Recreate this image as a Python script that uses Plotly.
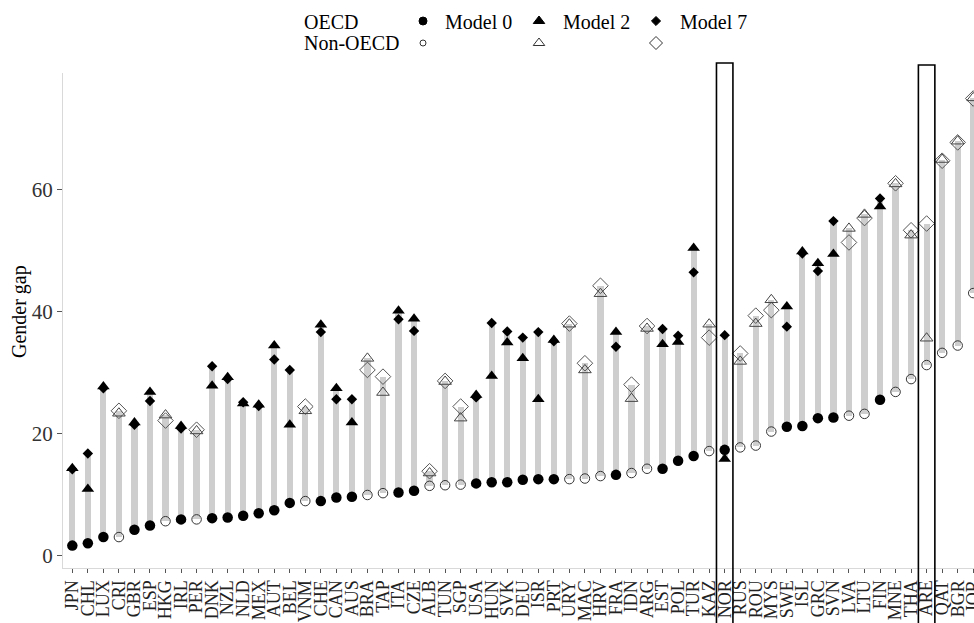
import plotly.graph_objects as go

countries = ["JPN","CHL","LUX","CRI","GBR","ESP","HKG","IRL","PER","DNK","NZL","NLD","MEX","AUT","BEL","VNM",
             "CHE","CAN","AUS","BRA","TAP","ITA","CZE","ALB","TUN","SGP","USA","HUN","SVK","DEU","ISR","PRT",
             "URY","MAC","HRV","FRA","IDN","ARG","EST","POL","TUR","KAZ","NOR","RUS","ROU","MYS","SWE","ISL",
             "GRC","SVN","LVA","LTU","FIN","MNE","THA","ARE","QAT","BGR","JOR"]
oecd = [1,1,1,0,1,1,0,1,0,1,1,1,1,1,1,0,
        1,1,1,0,0,1,1,0,0,0,1,1,1,1,1,1,
        0,0,0,1,0,0,1,1,1,0,1,0,0,0,1,1,
        1,1,0,0,1,0,0,0,0,0,0]
model0 = [1.7,2.1,3.1,3.1,4.3,5.0,5.7,6.0,6.0,6.2,6.3,6.6,7.0,7.5,8.7,9.0,
          9.0,9.6,9.7,10.0,10.3,10.4,10.7,11.5,11.6,11.7,11.9,12.1,12.1,12.5,12.6,12.6,
          12.6,12.7,13.1,13.3,13.6,14.3,14.3,15.6,16.4,17.2,17.4,17.8,18.1,20.4,21.2,21.3,
          22.6,22.7,23.0,23.3,25.6,26.9,29.0,31.3,33.3,34.5,43.1]
model2 = [14.4,11.0,27.8,23.4,21.9,26.9,23.1,21.3,20.5,27.9,29.3,25.0,24.8,34.5,21.5,23.8,
          37.9,27.5,21.9,32.4,26.8,40.2,38.9,13.6,28.6,22.6,26.4,29.5,35.0,32.4,25.7,35.4,
          38.0,30.5,43.0,36.7,25.8,37.3,34.7,35.1,50.5,38.0,15.9,31.9,38.1,42.0,40.9,49.9,
          48.0,49.5,53.7,56.0,57.3,61.0,52.6,35.7,65.0,68.0,75.1]
model7 = [14.2,16.8,27.5,23.8,21.5,25.4,22.2,20.9,20.7,31.1,29.0,25.2,24.6,32.2,30.5,24.5,
          36.7,25.7,25.7,30.5,29.4,38.8,36.9,13.9,28.7,24.5,26.0,38.2,36.8,35.8,36.7,35.2,
          38.1,31.6,44.3,34.3,28.1,37.7,37.2,36.1,46.5,35.8,36.2,33.2,39.4,40.3,37.6,49.6,
          46.7,54.9,51.4,55.4,58.6,61.1,53.4,54.5,64.8,67.8,75.0]
highlight = ["NOR", "ARE"]
yticks = [0, 20, 40, 60]

FONT = "Liberation Serif"
lo = [min(a, b, c) for a, b, c in zip(model0, model2, model7)]
hi = [max(a, b, c) for a, b, c in zip(model0, model2, model7)]

fig = go.Figure()
fig.add_trace(go.Bar(x=countries, y=[h - l for h, l in zip(hi, lo)], base=lo, width=0.4,
                     marker=dict(color="#cecece", line=dict(width=0)), showlegend=False, hoverinfo="skip"))

def split(vals, flag):
    xs = [c for c, o in zip(countries, oecd) if o == flag]
    ys = [v for v, o in zip(vals, oecd) if o == flag]
    return xs, ys

styles = [
    (model0, dict(symbol="circle", size=10.5, color="black"),
             dict(symbol="circle-open", size=9.5, color="#333333", line=dict(width=1, color="#333333"))),
    (model7, dict(symbol="diamond", size=8, color="black"),
             dict(symbol="diamond-open", size=12, color="#555555", line=dict(width=1, color="#555555"))),
    (model2, dict(symbol="triangle-up", size=11, color="black"),
             dict(symbol="triangle-up-open", size=11, color="#444444", line=dict(width=1, color="#444444"))),
]
for vals, filled, hollow in styles:
    xs, ys = split(vals, 1)
    fig.add_trace(go.Scatter(x=xs, y=ys, mode="markers", marker=filled, showlegend=False, cliponaxis=False))
    xs, ys = split(vals, 0)
    fig.add_trace(go.Scatter(x=xs, y=ys, mode="markers", marker=hollow, showlegend=False, cliponaxis=False))

# legend drawn on a separate pixel-unit axis pair placed above the panel
LEG_DOM = 0.88
leg_h = 568 * (1 - LEG_DOM)
leg_markers = [
    (423, 21, "circle", 8, "black"), (423, 43, "circle-open", 6, "#333333"),
    (539, 21, "triangle-up", 10, "black"), (539, 43, "triangle-up-open", 10, "#333333"),
    (656, 21, "diamond", 7, "black"), (656, 43, "diamond-open", 10, "#333333"),
]
for x, y, sym, sz, col in leg_markers:
    fig.add_trace(go.Scatter(x=[x], y=[y], xaxis="x2", yaxis="y2", mode="markers",
                             marker=dict(symbol=sym, size=sz, color=col, line=dict(width=1, color=col)),
                             showlegend=False, cliponaxis=False, hoverinfo="skip"))
leg_texts = [(302, 22, "OECD"), (302, 43, "Non-OECD"), (443, 22, "Model 0"),
             (561, 22, "Model 2"), (678, 22, "Model 7")]
annotations = []
for x, y, t in leg_texts:
    annotations.append(dict(x=x, y=y, xref="x2", yref="y2", text=t, showarrow=False,
                            xanchor="left", yanchor="middle", font=dict(family=FONT, size=20, color="black")))
annotations.append(dict(x=-43 / 911, y=(568 - 312) / 568, xref="paper", yref="paper", text="Gender gap",
                        textangle=-90, showarrow=False, xanchor="center", yanchor="middle",
                        font=dict(family=FONT, size=20, color="black")))

shapes = []
for c, top in zip(highlight, [63, 65]):
    i = countries.index(c)
    shapes.append(dict(type="rect", xref="x", yref="paper", x0=i - 0.53, x1=i + 0.53,
                       y0=-0.2, y1=(568 - top) / 568, line=dict(color="black", width=1.6),
                       fillcolor="rgba(0,0,0,0)", layer="above"))

fig.update_layout(
    width=974, height=623, margin=dict(l=63, r=0, t=0, b=55),
    plot_bgcolor="rgba(0,0,0,0)", paper_bgcolor="white",
    font=dict(family=FONT),
    bargap=0, showlegend=False,
    annotations=annotations, shapes=shapes,
    xaxis=dict(type="category", categoryorder="array", categoryarray=countries,
               tickmode="linear", tick0=0, dtick=1,
               range=[-0.6, 58.05], showgrid=False, zeroline=False, automargin=False,
               showline=True, linecolor="#d9d9d9", linewidth=1,
               ticks="outside", ticklen=4, tickcolor="#555555", tickwidth=1,
               tickangle=-90, tickfont=dict(family=FONT, size=18, color="#222222"),
               ticklabelstandoff=0),
    yaxis=dict(domain=[0, (568 - 73) / 568], range=[-1.97, 79.18], showgrid=False, zeroline=False,
               automargin=False, showline=True, linecolor="#d9d9d9", linewidth=1,
               tickvals=yticks, ticks="outside", ticklen=5, tickcolor="#555555",
               tickfont=dict(family=FONT, size=21, color="#333333")),
    xaxis2=dict(domain=[0, 1], range=[63, 974], anchor="y2", visible=False),
    yaxis2=dict(domain=[LEG_DOM, 1], range=[leg_h, 0], anchor="x2", visible=False),
)

fig.write_html("out.html")
